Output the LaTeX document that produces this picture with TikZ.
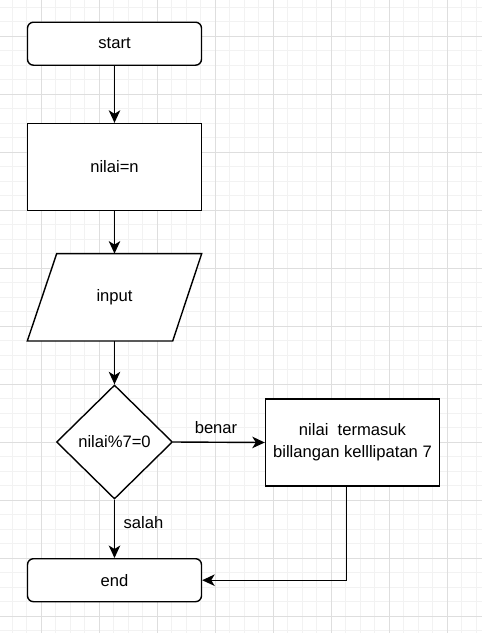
\documentclass[tikz,border=0pt]{standalone}
\usepackage{fontspec}
\setmainfont{Liberation Sans}
\usetikzlibrary{shapes.geometric,arrows.meta,calc}
\definecolor{gridminor}{HTML}{F2F2F2}
\definecolor{gridmajor}{HTML}{DEDEDE}
\tikzset{
  every node/.style={font=\fontsize{16.6}{21.8}\selectfont, text=black},
  box/.style={draw=black, line width=1.4pt, minimum width=174pt, minimum height=87pt, inner sep=0pt, align=center, fill=white},
  termbox/.style={box, rounded corners=6pt, minimum height=43pt},
  decbox/.style={draw=black, line width=1.4pt, diamond, aspect=1.02, minimum width=116pt, minimum height=114pt, inner sep=0pt, fill=white},
  ghost/.style={minimum width=174pt, minimum height=87pt, inner sep=0pt},
  conn/.style={draw=black, line width=1.4pt, -{Stealth[length=12.5pt,width=11.5pt,inset=3.5pt]}},
  lbl/.style={inner sep=0pt}
}
\begin{document}
\begin{tikzpicture}[x=1pt,y=-1pt]
\useasboundingbox (0,0) rectangle (482,633);
\fill[white] (0,0) rectangle (482,633);
% grid
\foreach \k in {-2,...,31} {
  \draw[gridminor, line width=0.8pt] ({41.3+14.5*\k},0) -- ({41.3+14.5*\k},633);
}
\foreach \k in {-2,...,41} {
  \draw[gridminor, line width=0.8pt] (0,{36.3+14.5*\k}) -- (482,{36.3+14.5*\k});
}
\foreach \k in {0,...,7} {
  \draw[gridmajor, line width=0.8pt] ({41.3+58*\k},0) -- ({41.3+58*\k},633);
}
\foreach \k in {0,...,10} {
  \draw[gridmajor, line width=0.8pt] (0,{36.3+58*\k}) -- (482,{36.3+58*\k});
}
% nodes
\node[termbox] (start) at (114.5,43.7) {start};
\node[box] (nilai) at (114.5,167) {nilai=n};
\node[ghost] (input) at (114.5,297.3) {};
\filldraw[fill=white, draw=black, line width=1.4pt, line join=miter]
  ($(input.north west)+(29.4,0)$) -- (input.north east) -- ($(input.south east)+(-29,0)$) -- (input.south west) -- cycle;
\node at (input.center) {input};
\node[decbox] (dec) at (114.5,442) {nilai\%7=0};
\node[box] (res) at (352.5,442.5) {nilai\ \ termasuk\\billangan kelllipatan 7};
\node[termbox] (end) at (114.5,580.2) {end};
\coordinate (resout) at ($(res.south)+(-5.8,0)$);
% connectors
\draw[conn] (start.south) -- (nilai.north);
\draw[conn] (nilai.south) -- (input.north);
\draw[conn] (input.south) -- (dec.north);
\draw[conn] (dec.east) -- (res.west);
\draw[conn] (dec.south) -- (end.north);
\draw[conn] (resout) |- (end.east);
% labels
\node[lbl] (lbenar) at (216,427.5) {benar};
\node[lbl] (lsalah) at (143.5,522.5) {salah};
\end{tikzpicture}
\end{document}
